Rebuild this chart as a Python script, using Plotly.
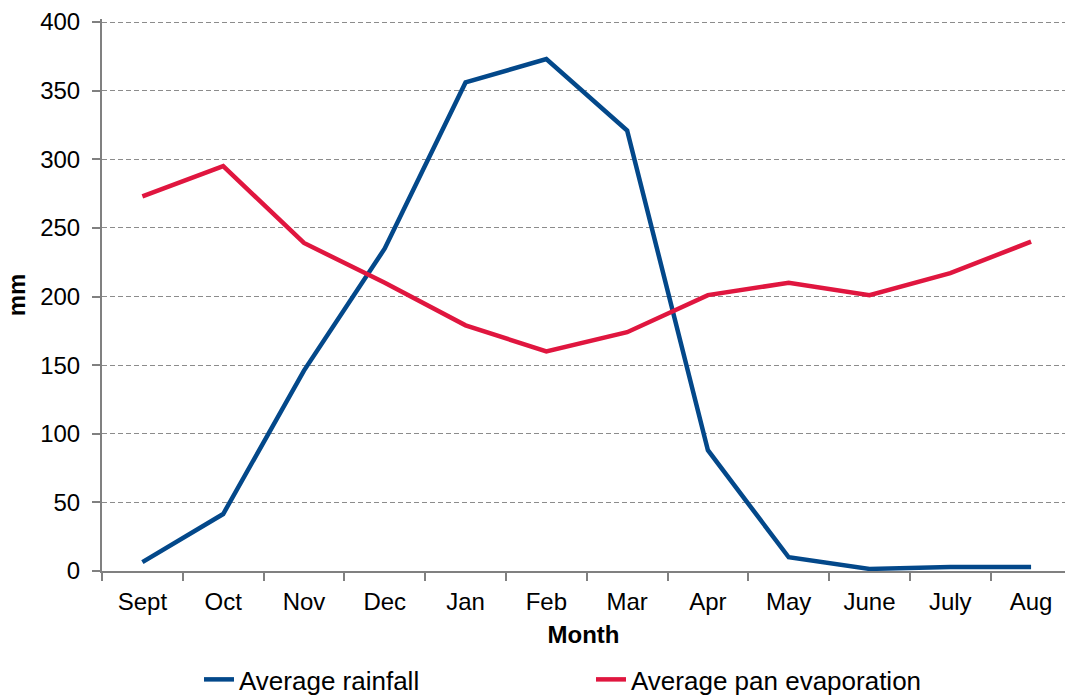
import plotly.graph_objects as go

months = ["Sept", "Oct", "Nov", "Dec", "Jan", "Feb", "Mar", "Apr", "May", "June", "July", "Aug"]
rainfall = [6.5, 41.5, 146, 235, 356, 373, 321, 88, 10, 1.5, 3, 3]
evaporation = [273, 295, 239, 210, 179, 160, 174, 201, 210, 201, 217, 240]
y_ticks = [0, 50, 100, 150, 200, 250, 300, 350, 400]

font_family = "Liberation Sans, Arial, sans-serif"

fig = go.Figure()
fig.add_trace(go.Scatter(x=months, y=rainfall, mode="lines", name="Average rainfall",
                         line=dict(color="#03488A", width=4.5)))
fig.add_trace(go.Scatter(x=months, y=evaporation, mode="lines", name="Average pan evaporation",
                         line=dict(color="#E0163F", width=4.5)))

fig.update_layout(
    width=1065, height=698,
    margin=dict(l=102, r=0, t=19, b=127, autoexpand=False),
    paper_bgcolor="white", plot_bgcolor="white",
    font=dict(family=font_family, size=24, color="black"),
    legend=dict(orientation="h", x=0.1007, xanchor="left", y=-0.1965, yanchor="middle",
                font=dict(size=26), itemwidth=30, traceorder="normal",
                entrywidth=347, entrywidthmode="pixels"),
    showlegend=True,
)
fig.update_xaxes(
    type="category", range=[-0.5, 11.42], automargin=False,
    showline=True, linecolor="#808080", linewidth=2,
    ticks="outside", tickson="boundaries", ticklen=8, tickcolor="#808080", tickwidth=1.5,
    showgrid=False, ticklabelstandoff=8,
    title=dict(text="<b>Month</b>", font=dict(size=24), standoff=12),
)
fig.update_yaxes(
    range=[0, 402.2], tickvals=y_ticks, automargin=False,
    showline=True, linecolor="#808080", linewidth=2,
    ticks="outside", ticklen=8, tickcolor="#808080", tickwidth=1.5,
    showgrid=True, gridcolor="#8C8C8C", griddash="5px,3px", gridwidth=1.3,
    zeroline=False, ticklabelstandoff=7,
    title=dict(text="<b>mm</b>", font=dict(size=24), standoff=8),
)

fig.write_html("out.html", config={"displayModeBar": False},
               post_script="document.body.style.margin='0';document.body.style.overflow='hidden';")
